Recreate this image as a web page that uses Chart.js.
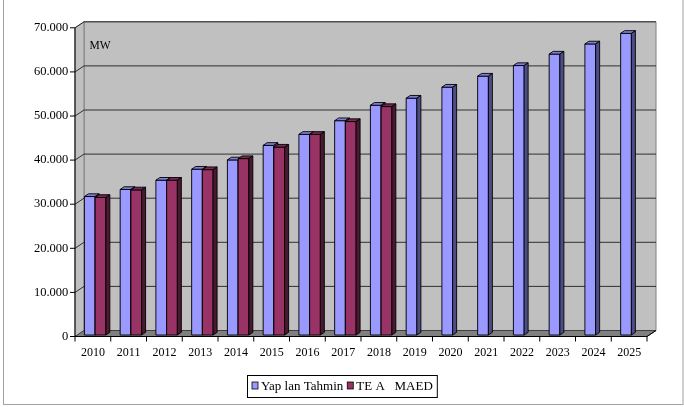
<!DOCTYPE html>
<html><head><meta charset="utf-8">
<script src="https://cdn.jsdelivr.net/npm/chart.js@4.4.0/dist/chart.umd.min.js"></script>
<style>html,body{margin:0;padding:0;background:#fff}canvas{display:block}</style>
</head><body>
<canvas id="c" width="684" height="407"></canvas>
<script>
const categories = ['2010','2011','2012','2013','2014','2015','2016','2017','2018','2019','2020','2021','2022','2023','2024','2025'];
const forecastValues = [31400, 33000, 35100, 37600, 39700, 43000, 45500, 48600, 52100, 53700, 56200, 58700, 61100, 63700, 66000, 68400];
const maedValues = [31200, 32900, 35100, 37500, 40000, 42600, 45500, 48400, 51800, null, null, null, null, null, null, null];
const yTickLabels = ['0','10.000','20.000','30.000','40.000','50.000','60.000','70.000'];
const seriesNames = ['Yap lan Tahmin', 'TE A   MAED'];
const unitLabel = 'MW';

const SERIF = '"Liberation Serif", "Times New Roman", serif';
const D_FRONT = {x: -2.25, y: 1.5};
const D_BACK = {x: 6.75, y: -4.5};
const BAR_DEPTH = {x: 4, y: -2.7};
const FACE = [
  {front: '#9999FF', top: '#7f7fd6', side: '#4d4d85'},
  {front: '#993366', top: '#7a2952', side: '#4a1830'}
];

function poly(ctx, pts, fill, stroke) {
  ctx.beginPath();
  ctx.moveTo(pts[0][0], pts[0][1]);
  for (let i = 1; i < pts.length; i++) ctx.lineTo(pts[i][0], pts[i][1]);
  ctx.closePath();
  if (fill) { ctx.fillStyle = fill; ctx.fill(); }
  if (stroke) { ctx.strokeStyle = stroke; ctx.stroke(); }
}

const scene3d = {
  id: 'scene3d',
  beforeDraw(chart) {
    const ctx = chart.ctx, xs = chart.scales.x, ys = chart.scales.y;
    ctx.save();
    ctx.fillStyle = '#fff';
    ctx.fillRect(0, 0, chart.width, chart.height);
    // outer frame
    ctx.strokeStyle = '#a0a0a0'; ctx.lineWidth = 1;
    ctx.strokeRect(3.5, -0.5, 679.5, 405);

    const L = xs.left, R = xs.right;
    const fL = L + D_FRONT.x, fR = R + D_FRONT.x;
    const bL = L + D_BACK.x, bR = R + D_BACK.x;
    const fy = v => ys.getPixelForValue(v) + D_FRONT.y;
    const by = v => ys.getPixelForValue(v) + D_BACK.y;
    ctx.lineWidth = 1;
    // back wall
    poly(ctx, [[bL, by(ys.max)], [bR, by(ys.max)], [bR, by(0)], [bL, by(0)]], '#C0C0C0', '#808080');
    // left wall
    poly(ctx, [[fL, fy(ys.max)], [bL, by(ys.max)], [bL, by(0)], [fL, fy(0)]], '#C0C0C0', '#808080');
    // gridlines
    ctx.strokeStyle = '#303030';
    ys.ticks.forEach(t => {
      if (t.value === 0) return;
      ctx.beginPath();
      ctx.moveTo(fL, fy(t.value)); ctx.lineTo(bL, by(t.value)); ctx.lineTo(bR, by(t.value));
      ctx.stroke();
    });
    // floor
    poly(ctx, [[fL, fy(0)], [fR, fy(0)], [bR, by(0)], [bL, by(0)]], '#808080', '#404040');
    // axes
    ctx.strokeStyle = '#000';
    ctx.beginPath();
    ctx.moveTo(fL, fy(ys.max)); ctx.lineTo(fL, fy(0)); ctx.lineTo(fR, fy(0)); ctx.lineTo(bR, by(0));
    ctx.stroke();
    // y ticks
    ys.ticks.forEach(t => {
      ctx.beginPath();
      ctx.moveTo(fL - 5, fy(t.value)); ctx.lineTo(fL, fy(t.value));
      ctx.stroke();
    });
    // x ticks at category boundaries
    const n = xs.getLabels().length, step = (R - L) / n;
    for (let k = 0; k <= n; k++) {
      const x = L + k * step + D_FRONT.x;
      ctx.beginPath(); ctx.moveTo(x, fy(0)); ctx.lineTo(x, fy(0) + 5); ctx.stroke();
    }
    // unit label on the back wall
    ctx.fillStyle = '#000';
    ctx.font = '11.5px ' + SERIF;
    ctx.textBaseline = 'middle'; ctx.textAlign = 'left';
    ctx.fillText(unitLabel, bL + 5.5, by(ys.max) + 24);
    ctx.restore();
  },
  afterDatasetsDraw(chart) {
    const ctx = chart.ctx;
    ctx.save();
    ctx.lineWidth = 0.9;
    const n = chart.data.labels.length;
    for (let j = 0; j < n; j++) {
      chart.data.datasets.forEach((ds, i) => {
        if (ds.data[j] == null) return;
        const el = chart.getDatasetMeta(i).data[j];
        const {x, y, base, width} = el.getProps(['x', 'y', 'base', 'width'], true);
        const l = x - width / 2, r = x + width / 2;
        const c = FACE[i], dx = BAR_DEPTH.x, dy = BAR_DEPTH.y;
        poly(ctx, [[l, y], [r, y], [r, base], [l, base]], c.front, '#000');
        poly(ctx, [[l, y], [r, y], [r + dx, y + dy], [l + dx, y + dy]], c.top, '#000');
        poly(ctx, [[r, y], [r + dx, y + dy], [r + dx, base + dy], [r, base]], c.side, '#000');
      });
    }
    ctx.restore();
  },
  afterDraw(chart) {
    const ctx = chart.ctx;
    ctx.save();
    ctx.font = '13px ' + SERIF;
    const sq = 6, gapT = 3, gapI = 4, pad = 4.5;
    const items = chart.data.datasets.map((ds, i) => ({text: ds.label, w: ctx.measureText(ds.label).width, c: FACE[i].front}));
    let total = pad * 2;
    items.forEach((it, k) => { total += sq + gapT + it.w + (k < items.length - 1 ? gapI : 0); });
    const bx = Math.round(chart.width / 2 - total / 2) + 0.5, byy = 375.5, bh = 22;
    ctx.fillStyle = '#fff';
    ctx.fillRect(bx, byy, total, bh);
    ctx.strokeStyle = '#000'; ctx.lineWidth = 1;
    ctx.strokeRect(bx, byy, total, bh);
    let cx = bx + pad;
    const cy = byy + bh / 2;
    ctx.textBaseline = 'middle'; ctx.textAlign = 'left';
    items.forEach(it => {
      ctx.fillStyle = it.c;
      ctx.fillRect(cx, cy - 4.5, sq, 7);
      ctx.strokeStyle = '#000'; ctx.lineWidth = 0.8;
      ctx.strokeRect(cx, cy - 4.5, sq, 7);
      cx += sq + gapT;
      ctx.fillStyle = '#000';
      ctx.fillText(it.text, cx, cy + 0.5);
      cx += it.w + gapI;
    });
    ctx.restore();
  }
};

new Chart(document.getElementById('c'), {
  type: 'bar',
  data: {
    labels: categories,
    datasets: [
      {label: seriesNames[0], data: forecastValues, backgroundColor: FACE[0].front, borderColor: '#000', borderWidth: 1},
      {label: seriesNames[1], data: maedValues, backgroundColor: FACE[1].front, borderColor: '#000', borderWidth: 1}
    ]
  },
  options: {
    responsive: false,
    animation: false,
    events: [],
    categoryPercentage: 0.6,
    barPercentage: 1.0,
    layout: {padding: {top: 26.3, right: 34.75, bottom: 0, left: 0}},
    plugins: {legend: {display: false}, tooltip: {enabled: false}},
    scales: {
      x: {
        type: 'category', offset: true,
        grid: {display: false, drawTicks: false}, border: {display: false},
        ticks: {font: {family: SERIF, size: 12}, color: '#000', padding: 11, labelOffset: D_FRONT.x, maxRotation: 0, autoSkip: false},
        afterFit(s) { s.height = 72; }
      },
      y: {
        min: 0, max: 70000,
        grid: {display: false, drawTicks: false}, border: {display: false},
        ticks: {stepSize: 10000, font: {family: SERIF, size: 12.5}, color: '#000', padding: 9, labelOffset: D_FRONT.y,
          callback: (v, i) => yTickLabels[i]},
        afterFit(s) { s.width = 77.25; }
      }
    }
  },
  plugins: [scene3d]
});
</script>
</body></html>
